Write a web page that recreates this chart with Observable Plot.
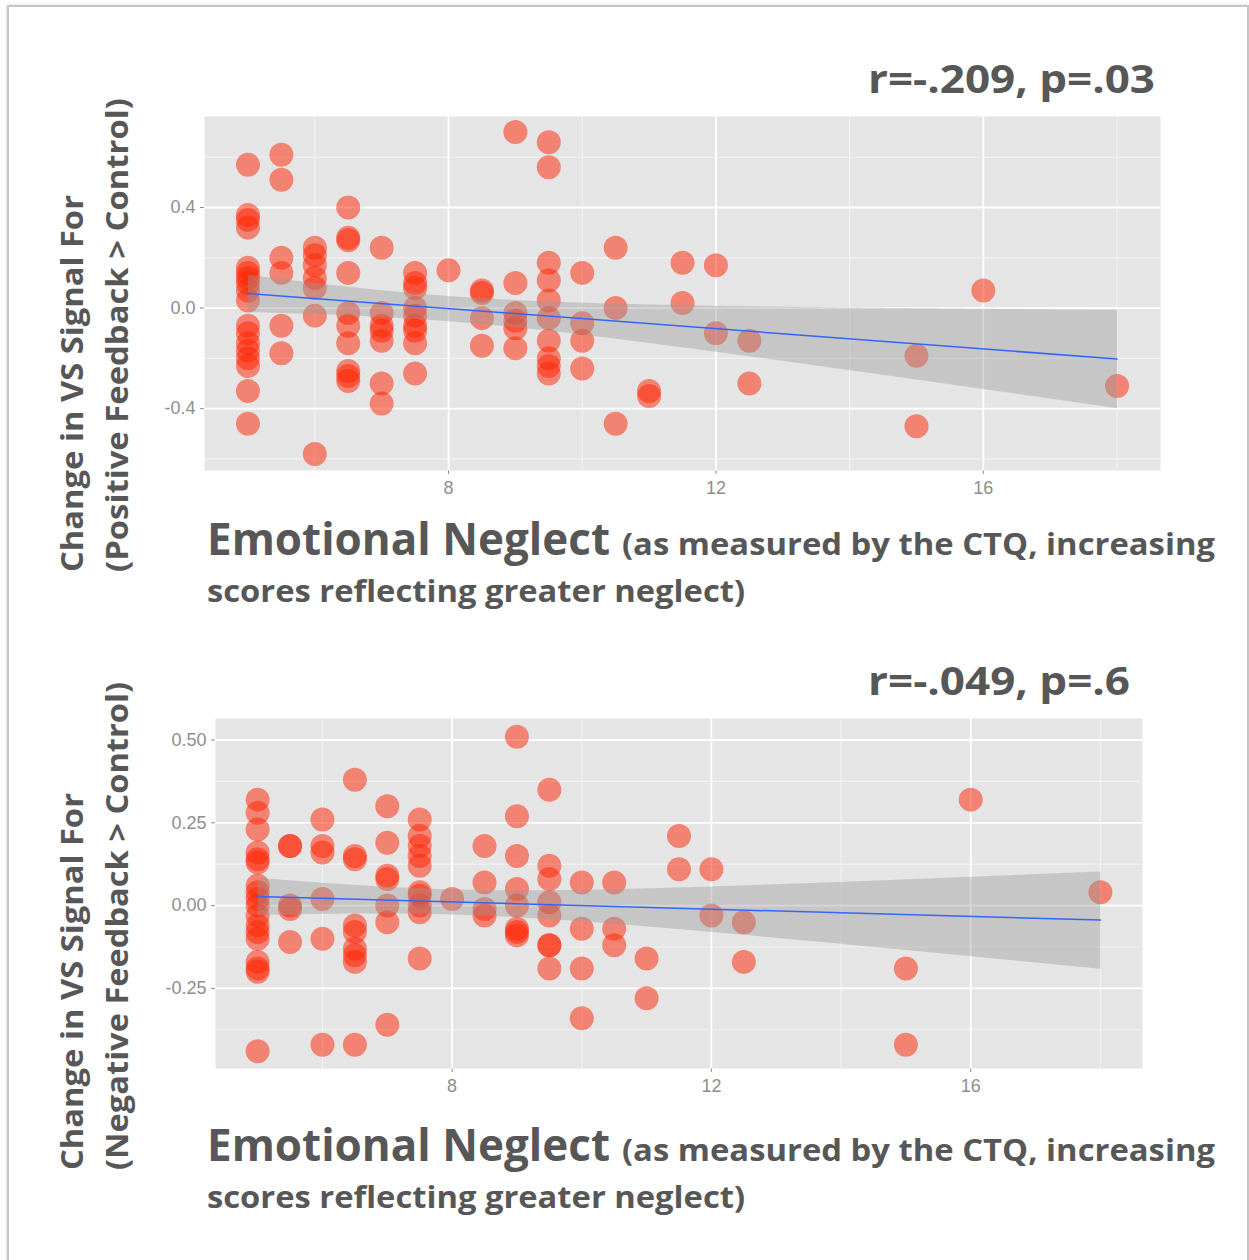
<!DOCTYPE html>
<html>
<head>
<meta charset="utf-8">
<script src="https://cdn.jsdelivr.net/npm/d3@7"></script>
<script src="https://cdn.jsdelivr.net/npm/@observablehq/plot@0.6"></script>
<style>
  body { margin: 0; background: #fff; }
  #page { position: relative; width: 1249px; height: 1260px; overflow: hidden; background: #fff; }
  .frame { position: absolute; left: 7px; top: 5px; width: 1238px; height: 1290px; border: 2px solid #c6c6c6; box-shadow: 0 0 3px rgba(0,0,0,0.18); }
  .plot { position: absolute; left: 0; }
  #labels { position: absolute; left: 0; top: 0; pointer-events: none; }
  #labels text { font-family: "Open Sans", sans-serif; fill: #575757; }
</style>
</head>
<body>
<div id="page">
  <div class="frame"></div>
  <div id="p1" class="plot" style="top:0px"></div>
  <div id="p2" class="plot" style="top:640px"></div>
  <svg id="labels" width="1249" height="1260"></svg>
</div>
<script>
// ---- Data: top panel (Positive Feedback > Control) ----
const topX = [
  5,5,5,5,5,5,5,5,5,5,5,5,5,5,5,5,5,5,
  5.5,5.5,5.5,5.5,5.5,5.5,
  6,6,6,6,6,6,6,
  6.5,6.5,6.5,6.5,6.5,6.5,6.5,6.5,6.5,6.5,
  7,7,7,7,7,7,7,
  7.5,7.5,7.5,7.5,7.5,7.5,7.5,7.5,7.5,
  8,
  8.5,8.5,8.5,8.5,
  9,9,9,9,9,9,
  9.5,9.5,9.5,9.5,9.5,9.5,9.5,9.5,9.5,9.5,
  10,10,10,10,
  10.5,10.5,10.5,
  11,11,
  11.5,11.5,
  12,12,
  12.5,12.5,
  15,15,
  16,
  18
];
const topY = [
  0.57,0.37,0.35,0.32,0.16,0.14,0.12,0.10,0.07,0.03,-0.07,-0.10,-0.14,-0.17,-0.20,-0.23,-0.33,-0.46,
  0.61,0.51,0.20,0.14,-0.07,-0.18,
  0.24,0.21,0.17,0.12,0.08,-0.03,-0.58,
  0.40,0.28,0.27,0.14,-0.02,-0.07,-0.14,-0.25,-0.27,-0.29,
  0.24,-0.02,-0.07,-0.09,-0.13,-0.30,-0.38,
  0.14,0.10,0.08,0.00,-0.03,-0.07,-0.09,-0.14,-0.26,
  0.15,
  0.07,0.06,-0.04,-0.15,
  0.70,0.10,-0.02,-0.05,-0.08,-0.16,
  0.66,0.56,0.18,0.11,0.03,-0.04,-0.13,-0.20,-0.23,-0.26,
  0.14,-0.06,-0.13,-0.24,
  0.24,0.00,-0.46,
  -0.33,-0.35,
  0.18,0.02,
  0.17,-0.10,
  -0.13,-0.30,
  -0.19,-0.47,
  0.07,
  -0.31
];

// ---- Data: bottom panel (Negative Feedback > Control) ----
const botX = [
  5,5,5,5,5,5,5,5,5,5,5,5,5,5,5,5,5,5,
  5.5,5.5,5.5,5.5,5.5,
  6,6,6,6,6,6,
  6.5,6.5,6.5,6.5,6.5,6.5,6.5,6.5,6.5,
  7,7,7,7,7,7,7,
  7.5,7.5,7.5,7.5,7.5,7.5,7.5,7.5,7.5,7.5,
  8,
  8.5,8.5,8.5,8.5,
  9,9,9,9,9,9,9,9,
  9.5,9.5,9.5,9.5,9.5,9.5,9.5,9.5,
  10,10,10,10,
  10.5,10.5,10.5,
  11,11,
  11.5,11.5,
  12,12,
  12.5,12.5,
  15,15,
  16,
  18
];
const botY = [
  0.32,0.28,0.23,0.16,0.14,0.13,0.06,0.04,0.02,0.00,-0.03,-0.06,-0.08,-0.10,-0.17,-0.19,-0.20,-0.44,
  0.18,0.18,0.00,-0.01,-0.11,
  0.26,0.18,0.16,0.02,-0.10,-0.42,
  0.38,0.15,0.14,-0.06,-0.08,-0.13,-0.15,-0.17,-0.42,
  0.30,0.19,0.09,0.08,0.00,-0.05,-0.36,
  0.26,0.21,0.18,0.15,0.12,0.04,0.03,0.00,-0.02,-0.16,
  0.02,
  0.18,0.07,-0.01,-0.03,
  0.51,0.27,0.15,0.05,0.00,-0.07,-0.08,-0.09,
  0.35,0.12,0.08,0.01,-0.03,-0.12,-0.12,-0.19,
  0.07,-0.07,-0.19,-0.34,
  0.07,-0.07,-0.12,
  -0.16,-0.28,
  0.21,0.11,
  0.11,-0.03,
  -0.05,-0.17,
  -0.19,-0.42,
  0.32,
  0.04
];

// ---- Ticks & labels ----
const xTicks = [8, 12, 16];
const xMinor = [6, 10, 14, 18];
const topYTicks = [-0.4, 0, 0.4];
const topYMinor = [-0.6, -0.2, 0.2, 0.6];
const botYTicks = [-0.25, 0, 0.25, 0.5];
const botYMinor = [-0.375, -0.125, 0.125, 0.375];
const topStat = "r=-.209, p=.03";
const botStat = "r=-.049, p=.6";
const yTitleLine1 = "Change in VS Signal For";
const topYTitleLine2 = "(Positive Feedback > Control)";
const botYTitleLine2 = "(Negative Feedback > Control)";
const xTitleMain = "Emotional Neglect";
const xTitleRest1 = "(as measured by the CTQ, increasing";
const xTitleRest2 = "scores reflecting greater neglect)";

function makePlot(xs, ys, yDomain, yTicks, yMinor, fmt, m) {
  const rows = xs.map((x, i) => ({x, y: ys[i]}));
  return Plot.plot({
    width: 1249,
    height: m.height,
    marginLeft: m.left,
    marginRight: m.right,
    marginTop: m.top,
    marginBottom: m.bottom,
    style: {fontFamily: '"Liberation Sans", Arial, sans-serif', fontSize: "18px", color: "#8e8e8e", background: "transparent", overflow: "visible"},
    x: {domain: [4.35, 18.65], ticks: xTicks, tickSize: 4, tickPadding: 7, label: null},
    y: {domain: yDomain, ticks: yTicks, tickSize: 4, tickPadding: 5, tickFormat: fmt, label: null},
    marks: [
      Plot.frame({fill: "#E5E5E5", stroke: "none"}),
      Plot.ruleX(xMinor, {stroke: "#F2F2F2", strokeWidth: 1.2}),
      Plot.ruleY(yMinor, {stroke: "#F2F2F2", strokeWidth: 1.2}),
      Plot.ruleX(xTicks, {stroke: "#FFFFFF", strokeWidth: 1.8}),
      Plot.ruleY(yTicks, {stroke: "#FFFFFF", strokeWidth: 1.8}),
      Plot.dot(rows, {x: "x", y: "y", r: 12, fill: "#FF2200", fillOpacity: 0.5, stroke: "none"}),
      Plot.linearRegressionY(rows, {x: "x", y: "y", stroke: "#3366FF", strokeWidth: 1.5, fill: "#999999", fillOpacity: 0.4})
    ]
  });
}

document.getElementById("p1").append(
  makePlot(topX, topY, [-0.646, 0.762], topYTicks, topYMinor, d => d.toFixed(1),
    {height: 510, left: 204, right: 89, top: 116, bottom: 40})
);
document.getElementById("p2").append(
  makePlot(botX, botY, [-0.492, 0.565], botYTicks, botYMinor, d => d.toFixed(2),
    {height: 470, left: 215, right: 107, top: 78, bottom: 42})
);

// ---- Text labels ----
const NS = "http://www.w3.org/2000/svg";
const labels = document.getElementById("labels");
function addText(str, attrs) {
  const t = document.createElementNS(NS, "text");
  for (const k in attrs) t.setAttribute(k, attrs[k]);
  t.textContent = str;
  labels.appendChild(t);
  return t;
}
function panelText(offset, stat, line2) {
  addText(stat, {x: 868, y: 93 + offset.stat, "font-size": 39, "font-weight": 700, textLength: offset.statLen, lengthAdjust: "spacingAndGlyphs"});
  addText(yTitleLine1, {transform: `translate(83,${572 + offset.y}) rotate(-90)`, "font-size": 30, "font-weight": 700, textLength: 377, lengthAdjust: "spacingAndGlyphs"});
  addText(line2, {transform: `translate(128,${572 + offset.y}) rotate(-90)`, "font-size": 30, "font-weight": 700, textLength: offset.l2, lengthAdjust: "spacingAndGlyphs"});
  addText(xTitleMain, {x: 207, y: 555 + offset.x, "font-size": 44, "font-weight": 700, textLength: 403, lengthAdjust: "spacingAndGlyphs"});
  addText(xTitleRest1, {x: 622, y: 555 + offset.x, "font-size": 31, "font-weight": 700, textLength: 593, lengthAdjust: "spacingAndGlyphs"});
  addText(xTitleRest2, {x: 207, y: 602 + offset.x, "font-size": 31, "font-weight": 700, textLength: 538, lengthAdjust: "spacingAndGlyphs"});
}
panelText({stat: 0, statLen: 287, y: 0, l2: 474, x: 0}, topStat, topYTitleLine2);
panelText({stat: 602, statLen: 262, y: 598, l2: 488, x: 606}, botStat, botYTitleLine2);
</script>
</body>
</html>
